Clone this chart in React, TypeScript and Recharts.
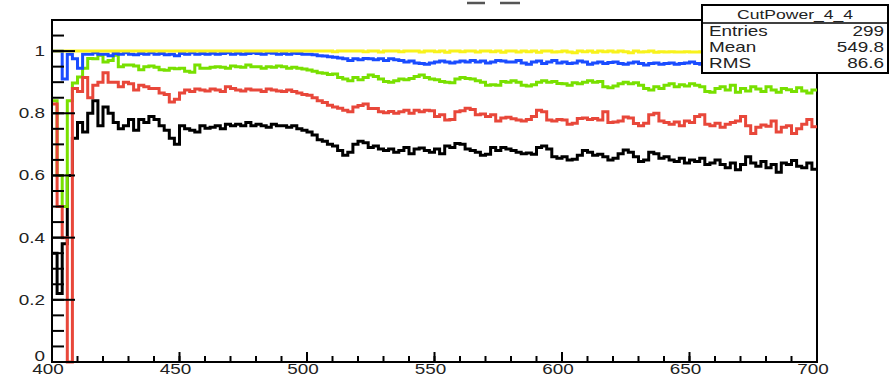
import { LineChart, Line, XAxis, YAxis, ReferenceArea } from "recharts";

// histogram bins: 2 units wide, starting at 400
const binStart = 400;
const binWidth = 2;

const black = [
  0.35, 0.22, 0.38, 0.6, 0.72, 0.77, 0.74, 0.8, 0.84, 0.76,
  0.82, 0.8, 0.77, 0.75, 0.76, 0.78, 0.745, 0.78, 0.77, 0.79,
  0.78, 0.76, 0.745, 0.72, 0.7, 0.76, 0.75, 0.745, 0.74, 0.76,
  0.752, 0.755, 0.76, 0.75, 0.765, 0.76, 0.765, 0.76, 0.77, 0.76,
  0.765, 0.76, 0.755, 0.765, 0.76, 0.76, 0.755, 0.76, 0.75, 0.745,
  0.74, 0.73, 0.715, 0.71, 0.7, 0.695, 0.68, 0.665, 0.675, 0.7,
  0.71, 0.705, 0.69, 0.695, 0.685, 0.68, 0.685, 0.675, 0.68, 0.69,
  0.67, 0.685, 0.688, 0.68, 0.675, 0.685, 0.67, 0.695, 0.69, 0.703,
  0.7, 0.685, 0.68, 0.675, 0.665, 0.668, 0.69, 0.68, 0.69, 0.685,
  0.68, 0.675, 0.67, 0.672, 0.668, 0.69, 0.695, 0.685, 0.66, 0.655,
  0.66, 0.65, 0.652, 0.665, 0.68, 0.675, 0.665, 0.668, 0.66, 0.65,
  0.655, 0.67, 0.682, 0.675, 0.66, 0.645, 0.65, 0.675, 0.67, 0.655,
  0.66, 0.65, 0.645, 0.655, 0.64, 0.65, 0.645, 0.655, 0.635, 0.64,
  0.65, 0.635, 0.625, 0.64, 0.618, 0.635, 0.66, 0.64, 0.63, 0.645,
  0.625, 0.635, 0.61, 0.64, 0.635, 0.648, 0.63, 0.625, 0.64, 0.62,
];

const red = [
  0.83, 0.5, 0.4, 0.0, 0.88, 0.87, 0.915, 0.85, 0.89, 0.9,
  0.93, 0.9, 0.9, 0.885, 0.9, 0.895, 0.875, 0.89, 0.885, 0.88,
  0.88, 0.865, 0.86, 0.836, 0.845, 0.865, 0.875, 0.87, 0.878, 0.875,
  0.872, 0.878, 0.875, 0.87, 0.885, 0.88, 0.875, 0.872, 0.878, 0.875,
  0.875, 0.87, 0.878, 0.875, 0.872, 0.87, 0.875, 0.87, 0.865, 0.86,
  0.858, 0.85, 0.84, 0.835, 0.826, 0.82, 0.816, 0.81, 0.805, 0.82,
  0.825, 0.83, 0.815, 0.815, 0.805, 0.802, 0.806, 0.8, 0.805, 0.81,
  0.8, 0.81, 0.805, 0.81, 0.808, 0.79, 0.795, 0.778, 0.78, 0.805,
  0.808, 0.816, 0.812, 0.795, 0.798, 0.79, 0.795, 0.775, 0.785, 0.787,
  0.782, 0.778, 0.775, 0.78, 0.79, 0.81, 0.805, 0.778, 0.775, 0.78,
  0.778, 0.765, 0.768, 0.783, 0.785, 0.78, 0.783, 0.778, 0.805, 0.77,
  0.772, 0.775, 0.788, 0.785, 0.767, 0.76, 0.768, 0.795, 0.8, 0.775,
  0.77, 0.765, 0.772, 0.76, 0.775, 0.77, 0.79, 0.795, 0.765, 0.76,
  0.768, 0.755, 0.765, 0.77, 0.775, 0.79, 0.76, 0.735, 0.755, 0.762,
  0.758, 0.775, 0.74, 0.755, 0.76, 0.735, 0.75, 0.765, 0.78, 0.757,
];

const green = [
  0.84, 0.6, 0.5, 0.84, 0.897, 0.917, 0.945, 0.976, 0.975, 0.987,
  0.965, 0.97, 0.987, 0.95, 0.955, 0.955, 0.952, 0.94, 0.95, 0.952,
  0.948, 0.94, 0.938, 0.945, 0.943, 0.945, 0.935, 0.932, 0.955, 0.945,
  0.945, 0.948, 0.95, 0.948, 0.945, 0.952, 0.95, 0.948, 0.955, 0.95,
  0.95, 0.945, 0.95, 0.948, 0.952, 0.95, 0.945, 0.948, 0.945, 0.942,
  0.939, 0.935, 0.93, 0.929, 0.925, 0.926, 0.915, 0.91, 0.905, 0.915,
  0.908, 0.915, 0.923, 0.918, 0.91, 0.902, 0.9, 0.905, 0.91, 0.908,
  0.912, 0.918, 0.923, 0.915, 0.91, 0.908, 0.902, 0.9, 0.898, 0.91,
  0.915, 0.912, 0.91, 0.905, 0.9, 0.89, 0.892, 0.89, 0.902, 0.9,
  0.905, 0.9, 0.89, 0.888, 0.892, 0.9, 0.905, 0.9, 0.902, 0.896,
  0.895, 0.89, 0.898, 0.895, 0.9, 0.905, 0.9, 0.902, 0.885, 0.882,
  0.888, 0.895, 0.9, 0.895, 0.898, 0.89, 0.88, 0.875, 0.885, 0.88,
  0.89, 0.895, 0.885, 0.892, 0.888, 0.895, 0.89, 0.885, 0.87, 0.868,
  0.88, 0.885, 0.875, 0.89, 0.868, 0.88, 0.872, 0.885, 0.878, 0.87,
  0.885, 0.875, 0.868, 0.88, 0.876, 0.87, 0.882, 0.872, 0.865, 0.875,
];

const blue = [
  1.0, 1.0, 0.91, 0.99, 0.975, 0.945, 0.99, 0.99, 0.995, 0.99,
  0.99, 0.985, 0.992, 0.99, 0.995, 0.99, 0.988, 0.992, 0.99, 0.995,
  0.99, 0.992, 0.988, 0.99, 0.985, 0.992, 0.99, 0.995, 0.99, 0.992,
  0.99, 0.993, 0.99, 0.992, 0.995, 0.99, 0.993, 0.99, 0.992, 0.995,
  0.992, 0.99, 0.995, 0.993, 0.99, 0.992, 0.99, 0.993, 0.992, 0.99,
  0.99, 0.988, 0.985, 0.984, 0.982, 0.98, 0.978, 0.975, 0.97, 0.975,
  0.972, 0.976, 0.975, 0.972, 0.975, 0.97, 0.975, 0.972, 0.97, 0.965,
  0.968, 0.962, 0.96, 0.958, 0.962, 0.965, 0.968, 0.965, 0.962, 0.965,
  0.968, 0.965, 0.97, 0.965, 0.968, 0.962, 0.965, 0.97, 0.968, 0.965,
  0.965, 0.97, 0.962, 0.958, 0.965, 0.968, 0.96, 0.965, 0.97, 0.962,
  0.965, 0.96, 0.962, 0.968, 0.965, 0.958, 0.962, 0.965, 0.96, 0.963,
  0.965, 0.96, 0.958, 0.962, 0.965, 0.96, 0.955, 0.96, 0.962, 0.958,
  0.96, 0.962, 0.958, 0.96, 0.962, 0.965, 0.96, 0.958, 0.962, 0.96,
  0.958, 0.96, 0.962, 0.958, 0.96, 0.962, 0.958, 0.96, 0.955, 0.958,
  0.96, 0.958, 0.962, 0.958, 0.96, 0.955, 0.958, 0.96, 0.958, 0.96,
];

const yellow = [
  1, 1, 1, 1, 1, 1, 1, 1, 1, 1,
  1, 1, 1, 1, 1, 1, 1, 1, 1, 1,
  1, 1, 1, 1, 1, 1, 1, 1, 1, 1,
  1, 1, 1, 1, 1, 1, 1, 1, 1, 1,
  1, 1, 1, 1, 1, 1, 1, 1, 1, 1,
  1, 1, 1, 1, 1, 0.998, 1, 1, 1, 1,
  1, 0.998, 1, 1, 0.997, 1, 1, 1, 0.998, 1,
  1, 1, 0.997, 1, 1, 0.998, 1, 0.996, 1, 1,
  0.998, 1, 1, 0.997, 1, 1, 0.998, 1, 0.996, 1,
  1, 0.997, 1, 0.998, 1, 0.996, 1, 1, 0.997, 0.998,
  1, 0.997, 0.995, 1, 0.998, 1, 0.996, 1, 0.998, 1,
  0.997, 1, 0.998, 0.995, 1, 0.997, 0.998, 1, 0.996, 0.998,
  0.997, 0.998, 0.997, 0.997, 0.998, 0.997, 0.997, 0.998, 0.997, 0.997,
  0.997, 0.998, 0.997, 0.997, 0.998, 0.997, 0.997, 0.998, 0.997, 0.997,
  0.997, 0.998, 0.997, 0.997, 0.998, 0.997, 0.997, 0.998, 0.997, 0.997,
];

const xTicks = Array.from({ length: 31 }, (_, i) => 400 + i * 10);
const yTicks = Array.from({ length: 23 }, (_, i) => (i * 5) / 100);

const statsTitle = "CutPower_4_4";
const statsRows = [
  ["Entries", "299"],
  ["Mean", "549.8"],
  ["RMS", "86.6"],
];

const FONT = "'Liberation Sans', Arial, Helvetica, sans-serif";
const TEXT = "#222";

// chart frame (pixels)
const W = 890;
const H = 376;
const PLOT_L = 52;
const PLOT_R = 817;
const PLOT_T = 20;
const PLOT_B = 362;
const AXIS_PAD = 4;
// inward tick lengths (negative tickSize points into the frame)
const X_TICK = 6;
const Y_TICK = 12;
const toPx = (v: number) => PLOT_L + ((v - 400) / 300) * (PLOT_R - PLOT_L);
const toPy = (v: number) => PLOT_B - (v / 1.1) * (PLOT_B - PLOT_T);

const isXMajor = (v: number) => v % 50 === 0;
const isYMajor = (v: number) => Math.abs(v * 5 - Math.round(v * 5)) < 1e-6 && v <= 1;

const rows = black.map((_, i) => ({
  x: binStart + i * binWidth,
  black: black[i],
  red: red[i],
  green: green[i],
  blue: blue[i],
  yellow: yellow[i],
}));
// close the last bin
rows.push({ ...rows[rows.length - 1], x: binStart + black.length * binWidth });

function XTick(props: any) {
  const x = Number(props.x);
  const y = Number(props.y);
  const v = props.payload.value;
  if (!isXMajor(v)) return <g />;
  return (
    <text
      transform={`translate(${x - 4},${y + 12}) scale(1.35,1)`}
      textAnchor="middle"
      fontSize={14}
      fontFamily={FONT}
      fill={TEXT}
    >
      {v}
    </text>
  );
}

function YTick(props: any) {
  const x = Number(props.x);
  const y = Number(props.y);
  const v = props.payload.value;
  if (!isYMajor(v)) return <g />;
  return (
    <text
      transform={`translate(${x - 7},${y + (v === 0 ? -1 : 5)}) scale(1.35,1)`}
      textAnchor="end"
      fontSize={14}
      fontFamily={FONT}
      fill={TEXT}
    >
      {String(Math.round(v * 10) / 10)}
    </text>
  );
}

export default function App() {
  const series = [
    { key: "black", color: "#000000" },
    { key: "green", color: "#78e000" },
    { key: "red", color: "#e8473a" },
    { key: "blue", color: "#1a4cff" },
    { key: "yellow", color: "#f8f21c" },
  ];
  return (
    <div style={{ position: "absolute", left: 0, top: 0, width: W, height: H, background: "#fff" }}>
      <LineChart
        width={W}
        height={H}
        data={rows}
        margin={{ top: PLOT_T, right: W - PLOT_R, bottom: H - PLOT_B - AXIS_PAD, left: PLOT_L - AXIS_PAD }}
      >
        <XAxis
          dataKey="x"
          type="number"
          domain={[400, 700]}
          ticks={xTicks}
          interval={0}
          height={AXIS_PAD}
          tickSize={-X_TICK}
          tickMargin={X_TICK}
          tick={(p: any) => <XTick {...p} />}
          axisLine={{ stroke: "#000", strokeWidth: 2 }}
          tickLine={{ stroke: "#000", strokeWidth: 2 }}
        />
        <YAxis
          type="number"
          domain={[0, 1.1]}
          ticks={yTicks}
          interval={0}
          width={AXIS_PAD}
          tickSize={-Y_TICK}
          tickMargin={Y_TICK}
          tick={(p: any) => <YTick {...p} />}
          axisLine={{ stroke: "#000", strokeWidth: 2 }}
          tickLine={{ stroke: "#000", strokeWidth: 2 }}
        />
        {series.map((s) => (
          <Line
            key={s.key}
            dataKey={s.key}
            type="stepAfter"
            stroke={s.color}
            strokeWidth={3}
            strokeLinejoin="miter"
            strokeLinecap="butt"
            dot={false}
            activeDot={false}
            isAnimationActive={false}
          />
        ))}
        <ReferenceArea x1={400} x2={700} y1={0} y2={1.1} fill="none" fillOpacity={0} stroke="#000" strokeWidth={2} ifOverflow="visible" />
      </LineChart>
      <svg width={W} height={H} style={{ position: "absolute", left: 0, top: 0, pointerEvents: "none" }}>
        {/* longer marks at the labelled values */}
        {xTicks.filter(isXMajor).map((v) => (
          <rect key={`xt${v}`} x={toPx(v) - 1} y={PLOT_B - 10} width={2} height={10} fill="#000" />
        ))}
        {yTicks.filter(isYMajor).map((v) => (
          <rect key={`yt${v}`} x={PLOT_L} y={toPy(v) - 1} width={23} height={2} fill="#000" />
        ))}
        {/* clipped histogram title above the canvas */}
        <path d="M467,3H485M500,3H520" stroke="#555" strokeWidth={2.5} fill="none" />
        <rect x={702} y={5} width={186} height={68} fill="#fff" stroke="#000" strokeWidth={2} />
        <line x1={702} y1={23} x2={888} y2={23} stroke="#000" strokeWidth={1.5} />
        <text
          transform="translate(795,19) scale(1.3,1)"
          textAnchor="middle"
          fontSize={13.5}
          fontFamily={FONT}
          fill={TEXT}
        >
          {statsTitle}
        </text>
        {statsRows.map(([label, value], i) => (
          <g key={label}>
            <text
              transform={`translate(709,${36 + i * 16}) scale(1.35,1)`}
              fontSize={14}
              fontFamily={FONT}
              fill={TEXT}
            >
              {label}
            </text>
            <text
              transform={`translate(884,${36 + i * 16}) scale(1.35,1)`}
              textAnchor="end"
              fontSize={14}
              fontFamily={FONT}
              fill={TEXT}
            >
              {value}
            </text>
          </g>
        ))}
      </svg>
    </div>
  );
}
